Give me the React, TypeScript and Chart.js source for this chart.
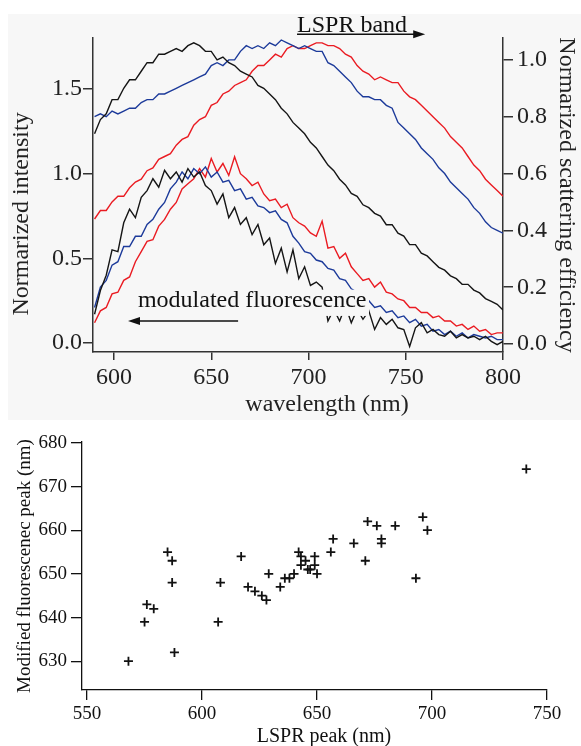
import React, { useEffect, useRef } from "react";
import { Chart, registerables } from "chart.js";
Chart.register(...registerables);

const FONT = "'Liberation Serif', 'Times New Roman', serif";
const TOP_BG = "#f7f7f7";

// ---------- top panel: spectra ----------
const wavelength = [
  590, 593, 596, 599, 602, 605, 608, 611, 614, 617,
  620, 623, 626, 629, 632, 635, 638, 641, 644, 647,
  650, 653, 656, 659, 662, 665, 668, 671, 674, 677,
  680, 683, 686, 689, 692, 695, 698, 701, 704, 707,
  710, 713, 716, 719, 722, 725, 728, 731, 734, 737,
  740, 743, 746, 749, 752, 755, 758, 761, 764, 767,
  770, 773, 776, 779, 782, 785, 788, 791, 794, 797, 800,
];

const wavelengthTicks = [600, 650, 700, 750, 800];
const intensityTicks = [0, 0.5, 1.0, 1.5];
const scatteringTicks = [0, 0.2, 0.4, 0.6, 0.8, 1.0];

// scattering efficiency (right axis)
const scatteringBlack = [
  0.74, 0.79, 0.81, 0.86, 0.86, 0.90, 0.93, 0.93, 0.96, 0.99,
  0.99, 1.02, 1.02, 1.03, 1.04, 1.03, 1.05, 1.06, 1.05, 1.03,
  1.03, 1.00, 1.01, 0.99, 0.98, 0.96, 0.95, 0.94, 0.91, 0.90,
  0.88, 0.86, 0.83, 0.81, 0.78, 0.76, 0.74, 0.71, 0.69, 0.66,
  0.63, 0.61, 0.58, 0.56, 0.53, 0.52, 0.49, 0.48, 0.46, 0.45,
  0.42, 0.42, 0.39, 0.38, 0.35, 0.35, 0.32, 0.31, 0.29, 0.27,
  0.26, 0.24, 0.23, 0.21, 0.21, 0.19, 0.18, 0.16, 0.15, 0.14, 0.12,
];
const scatteringBlue = [
  0.80, 0.81, 0.80, 0.82, 0.81, 0.82, 0.83, 0.83, 0.85, 0.86,
  0.86, 0.88, 0.88, 0.89, 0.90, 0.91, 0.92, 0.93, 0.94, 0.95,
  0.98, 0.99, 0.98, 1.00, 1.00, 1.03, 1.05, 1.04, 1.05, 1.04,
  1.06, 1.05, 1.07, 1.06, 1.05, 1.04, 1.05, 1.04, 1.03, 1.03,
  0.99, 0.98, 0.96, 0.94, 0.92, 0.89, 0.87, 0.87, 0.86, 0.86,
  0.84, 0.83, 0.78, 0.76, 0.74, 0.72, 0.69, 0.67, 0.65, 0.62,
  0.60, 0.57, 0.55, 0.53, 0.51, 0.48, 0.46, 0.43, 0.41, 0.40, 0.39,
];
const scatteringRed = [
  0.44, 0.47, 0.47, 0.50, 0.52, 0.52, 0.55, 0.57, 0.58, 0.61,
  0.62, 0.65, 0.66, 0.67, 0.70, 0.72, 0.73, 0.77, 0.79, 0.80,
  0.84, 0.85, 0.88, 0.89, 0.91, 0.92, 0.93, 0.96, 0.98, 0.98,
  1.00, 1.02, 1.01, 1.04, 1.05, 1.04, 1.04, 1.05, 1.06, 1.06,
  1.05, 1.05, 1.04, 1.02, 1.01, 0.98, 0.96, 0.95, 0.93, 0.94,
  0.93, 0.92, 0.92, 0.89, 0.87, 0.86, 0.84, 0.82, 0.80, 0.78,
  0.76, 0.73, 0.71, 0.69, 0.66, 0.63, 0.61, 0.58, 0.56, 0.54, 0.52,
];

// fluorescence intensity (left axis)
const fluorescenceBlack = [
  0.17, 0.31, 0.40, 0.55, 0.54, 0.71, 0.79, 0.74, 0.86, 0.90,
  0.97, 0.92, 1.02, 0.97, 1.01, 0.95, 1.03, 0.98, 1.01, 0.93,
  0.90, 0.82, 0.88, 0.74, 0.80, 0.70, 0.74, 0.64, 0.70, 0.58,
  0.62, 0.47, 0.56, 0.42, 0.55, 0.38, 0.45, 0.34, 0.36, 0.33,
  0.13, 0.20, 0.13, 0.22, 0.12, 0.20, 0.14, 0.19, 0.08, 0.15,
  0.11, 0.14, 0.09, 0.08, -0.02, 0.09, 0.12, 0.06, 0.08, 0.05,
  0.04, 0.07, 0.03, 0.05, 0.03, 0.04, 0.02, 0.04, 0.01, -0.01, 0.01,
];
const fluorescenceBlue = [
  0.21, 0.33, 0.37, 0.46, 0.48, 0.57, 0.57, 0.63, 0.63, 0.70,
  0.73, 0.79, 0.83, 0.91, 0.95, 1.01, 0.97, 1.03, 1.00, 1.04,
  0.98, 1.01, 0.95, 0.96, 0.90, 0.91, 0.85, 0.86, 0.81, 0.80,
  0.77, 0.78, 0.73, 0.71, 0.63, 0.59, 0.54, 0.53, 0.49, 0.48,
  0.44, 0.43, 0.38, 0.37, 0.32, 0.30, 0.26, 0.25, 0.21, 0.22,
  0.18, 0.19, 0.15, 0.16, 0.12, 0.14, 0.10, 0.11, 0.07, 0.08,
  0.05, 0.07, 0.04, 0.06, 0.03, 0.05, 0.04, 0.03, 0.04, 0.02, 0.02,
];
const fluorescenceRed = [
  0.12, 0.19, 0.21, 0.29, 0.30, 0.37, 0.39, 0.48, 0.54, 0.60,
  0.61, 0.69, 0.73, 0.79, 0.83, 0.91, 0.94, 0.97, 1.03, 0.98,
  1.09, 1.01, 1.06, 0.99, 1.10, 1.00, 0.97, 0.93, 0.95, 0.88,
  0.84, 0.85, 0.80, 0.82, 0.74, 0.71, 0.69, 0.65, 0.63, 0.72,
  0.56, 0.57, 0.50, 0.53, 0.45, 0.41, 0.37, 0.38, 0.33, 0.36,
  0.30, 0.29, 0.26, 0.25, 0.21, 0.21, 0.18, 0.18, 0.15, 0.16,
  0.13, 0.13, 0.10, 0.11, 0.08, 0.10, 0.07, 0.08, 0.05, 0.06, 0.06,
];

// ---------- bottom panel: peak correlation ----------
const lsprTicks = [550, 600, 650, 700, 750];
const fluorescencePeakTicks = [630, 640, 650, 660, 670, 680];

const lsprPeak = [
  568, 575, 576, 579, 585, 587, 587, 588, 607, 608,
  617, 620, 623, 626, 628, 629, 634, 636, 638, 640,
  642, 643, 645, 643, 646, 647, 649, 649, 650, 656,
  657, 666, 671, 672, 676, 678, 678, 684, 693, 696,
  698, 741,
];
const fluorescencePeak = [
  630, 639, 643, 642, 655, 653, 648, 632, 639, 648,
  654, 647, 646, 645, 644, 650, 647, 649, 649, 650,
  655, 654, 653, 652, 651, 651, 654, 652, 650, 655,
  658, 657, 653, 662, 661, 658, 657, 661, 649, 663,
  660, 674,
];

const COLOR_BLACK = "#151515";
const COLOR_BLUE = "#1c3a9a";
const COLOR_RED = "#ea1b22";

function arrow(ctx: CanvasRenderingContext2D, x1: number, y1: number, x2: number, y2: number) {
  const a = Math.atan2(y2 - y1, x2 - x1);
  const L = 12, W = 4;
  ctx.beginPath();
  ctx.moveTo(x1, y1);
  ctx.lineTo(x2 - (L - 2) * Math.cos(a), y2 - (L - 2) * Math.sin(a));
  ctx.stroke();
  ctx.beginPath();
  ctx.moveTo(x2, y2);
  ctx.lineTo(x2 - L * Math.cos(a) + W * Math.sin(a), y2 - L * Math.sin(a) - W * Math.cos(a));
  ctx.lineTo(x2 - L * Math.cos(a) - W * Math.sin(a), y2 - L * Math.sin(a) + W * Math.cos(a));
  ctx.closePath();
  ctx.fill();
}

const setTicks = (values: number[]) => (s: any) => {
  s.ticks = values.map((v) => ({ value: v }));
};

const topAnnotations = {
  id: "topAnnotations",
  afterDatasetsDraw(chart: any) {
    const { ctx } = chart;
    const x = chart.scales.x;
    const yL = chart.scales.yL;
    ctx.save();
    // label box for "modulated fluorescence"
    const bx1 = x.getPixelForValue(611.3);
    const bx2 = x.getPixelForValue(731.1);
    const by1 = yL.getPixelForValue(0.315);
    const by2 = yL.getPixelForValue(0.16);
    ctx.fillStyle = TOP_BG;
    ctx.fillRect(bx1, by1, bx2 - bx1, by2 - by1);
    ctx.fillStyle = "#111";
    ctx.strokeStyle = "#111";
    ctx.lineWidth = 1.4;
    ctx.font = `24px ${FONT}`;
    ctx.textAlign = "left";
    ctx.textBaseline = "alphabetic";
    ctx.fillText("modulated fluorescence", x.getPixelForValue(612.3), yL.getPixelForValue(0.213));
    arrow(ctx, x.getPixelForValue(663.8), yL.getPixelForValue(0.13), x.getPixelForValue(607.2), yL.getPixelForValue(0.13));
    // LSPR band
    ctx.fillText("LSPR band", x.getPixelForValue(694.1), yL.getPixelForValue(1.837));
    arrow(ctx, x.getPixelForValue(694.1), yL.getPixelForValue(1.823), x.getPixelForValue(760), yL.getPixelForValue(1.823));
    ctx.restore();
  },
  afterDraw(chart: any) {
    const { ctx } = chart;
    const x = chart.scales.x;
    const yL = chart.scales.yL;
    ctx.save();
    ctx.fillStyle = "#222";
    ctx.font = `24px ${FONT}`;
    ctx.textAlign = "center";
    ctx.textBaseline = "middle";
    ctx.fillText("wavelength (nm)", x.getPixelForValue(709.5), chart.height - 15);
    ctx.translate(14, yL.getPixelForValue(0.762));
    ctx.rotate(-Math.PI / 2);
    ctx.fillText("Normarized intensity", 0, 0);
    ctx.restore();
  },
};

const bottomAnnotations = {
  id: "bottomAnnotations",
  afterDraw(chart: any) {
    const { ctx } = chart;
    const x = chart.scales.x;
    ctx.save();
    ctx.fillStyle = "#111";
    ctx.font = `20px ${FONT}`;
    ctx.textAlign = "center";
    ctx.textBaseline = "middle";
    ctx.fillText("LSPR peak (nm)", x.getPixelForValue(653), chart.height - 9);
    ctx.restore();
  },
};

function lineDs(label: string, ys: number[], color: string, axis: string) {
  return {
    label,
    data: wavelength.map((w, i) => ({ x: w, y: ys[i] })),
    borderColor: color,
    backgroundColor: color,
    borderWidth: 1.4,
    pointRadius: 0,
    fill: false,
    tension: 0,
    yAxisID: axis,
  };
}

const axisGrid = { drawOnChartArea: false, drawTicks: true, color: "#333", lineWidth: 1.5 };
const axisBorder = { display: true, color: "#333", width: 1.5 };

export default function App() {
  const topRef = useRef<HTMLCanvasElement>(null);
  const botRef = useRef<HTMLCanvasElement>(null);

  useEffect(() => {
    const tickFont = { family: FONT, size: 24 };
    const top = new Chart(topRef.current as HTMLCanvasElement, {
      type: "line",
      data: {
        datasets: [
          lineDs("fluorescence black", fluorescenceBlack, COLOR_BLACK, "yL"),
          lineDs("fluorescence blue", fluorescenceBlue, COLOR_BLUE, "yL"),
          lineDs("fluorescence red", fluorescenceRed, COLOR_RED, "yL"),
          lineDs("scattering black", scatteringBlack, COLOR_BLACK, "yR"),
          lineDs("scattering blue", scatteringBlue, COLOR_BLUE, "yR"),
          lineDs("scattering red", scatteringRed, COLOR_RED, "yR"),
        ] as any,
      },
      options: {
        animation: false,
        responsive: false,
        maintainAspectRatio: false,
        layout: { padding: { top: 24, left: 0, right: 0, bottom: 0 } },
        plugins: { legend: { display: false }, tooltip: { enabled: false } },
        scales: {
          x: {
            type: "linear",
            position: "bottom",
            min: 589.2,
            max: 800,
            afterBuildTicks: setTicks(wavelengthTicks),
            afterFit: (s: any) => { s.height = 68; },
            ticks: { autoSkip: false, maxRotation: 0, font: tickFont, color: "#222", padding: 3 },
            grid: { ...axisGrid, tickLength: 8 },
            border: axisBorder,
            title: { display: false },
          },
          yL: {
            type: "linear",
            position: "left",
            min: -0.053,
            max: 1.801,
            afterBuildTicks: setTicks(intensityTicks),
            afterFit: (s: any) => { s.width = 85; },
            ticks: { autoSkip: false, font: tickFont, color: "#222", padding: 1, callback: (v: any) => Number(v).toFixed(1) },
            grid: { ...axisGrid, tickLength: 10 },
            border: axisBorder,
          },
          yR: {
            type: "linear",
            position: "right",
            min: -0.028,
            max: 1.077,
            afterBuildTicks: setTicks(scatteringTicks),
            afterFit: (s: any) => { s.width = 78; },
            ticks: { autoSkip: false, font: tickFont, color: "#222", padding: 4, callback: (v: any) => Number(v).toFixed(1) },
            grid: { ...axisGrid, tickLength: 10 },
            border: axisBorder,
            title: { display: true, text: "Normarized scattering efficiency", font: { family: FONT, size: 24 }, color: "#222", padding: 0 },
          },
        },
      } as any,
      plugins: [topAnnotations],
    });

    const botFont = { family: FONT, size: 19 };
    const bot = new Chart(botRef.current as HTMLCanvasElement, {
      type: "scatter",
      data: {
        datasets: [
          {
            label: "peaks",
            data: lsprPeak.map((v, i) => ({ x: v, y: fluorescencePeak[i] })),
            pointStyle: "cross",
            pointRadius: 4.5,
            borderColor: "#111",
            backgroundColor: "#111",
            borderWidth: 1.8,
          },
        ],
      },
      options: {
        animation: false,
        responsive: false,
        maintainAspectRatio: false,
        layout: { padding: { top: 22, right: 34, left: 0, bottom: 0 } },
        plugins: { legend: { display: false }, tooltip: { enabled: false } },
        scales: {
          x: {
            type: "linear",
            min: 547.8,
            max: 750,
            afterBuildTicks: setTicks(lsprTicks),
            afterFit: (s: any) => { s.height = 56; },
            ticks: { autoSkip: false, maxRotation: 0, font: botFont, color: "#111", padding: 3 },
            grid: { drawOnChartArea: false, drawTicks: true, color: "#111", lineWidth: 1.3, tickLength: 10 },
            border: { display: true, color: "#111", width: 1.3 },
            title: { display: false },
          },
          y: {
            type: "linear",
            min: 623.4,
            max: 680.2,
            afterBuildTicks: setTicks(fluorescencePeakTicks),
            afterFit: (s: any) => { s.width = 82; },
            ticks: { autoSkip: false, font: botFont, color: "#111", padding: 4 },
            grid: { drawOnChartArea: false, drawTicks: true, color: "#111", lineWidth: 1.3, tickLength: 11 },
            border: { display: true, color: "#111", width: 1.3 },
            title: { display: true, text: "Modified fluorescenec peak (nm)", font: { family: FONT, size: 19 }, color: "#111", padding: { top: 14, bottom: 0 } },
          },
        },
      } as any,
      plugins: [bottomAnnotations],
    });

    return () => {
      top.destroy();
      bot.destroy();
    };
  }, []);

  return (
    <div style={{ position: "absolute", left: 0, top: 0, width: 581, height: 746, overflow: "hidden", background: "#ffffff" }}>
      <div style={{ position: "absolute", left: 8, top: 14, width: 573, height: 406, background: TOP_BG }}>
        <canvas ref={topRef} width={573} height={406} style={{ display: "block", width: 573, height: 406 }} />
      </div>
      <div style={{ position: "absolute", left: 0, top: 420, width: 581, height: 326 }}>
        <canvas ref={botRef} width={581} height={326} style={{ display: "block", width: 581, height: 326 }} />
      </div>
    </div>
  );
}
